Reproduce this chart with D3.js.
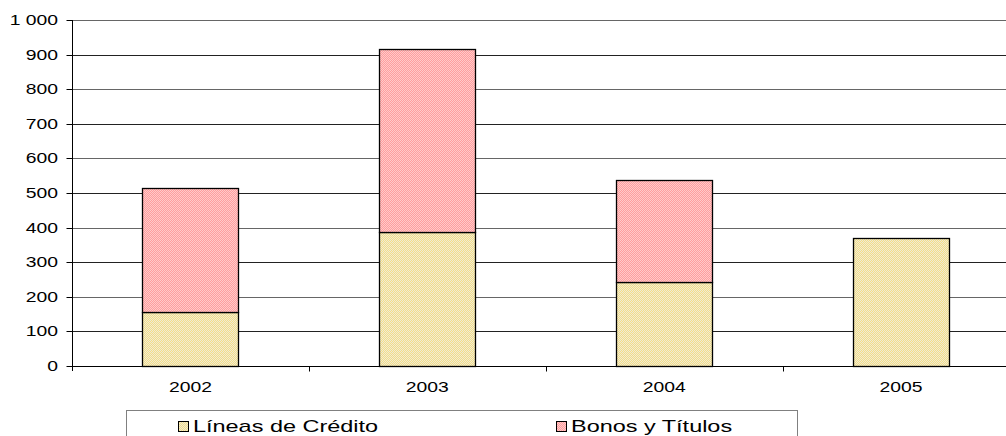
<!DOCTYPE html>
<html><head><meta charset="utf-8">
<script src="https://cdn.jsdelivr.net/npm/d3@7"></script>
<style>body{margin:0;background:#fff;} svg{display:block;}</style>
</head><body>
<svg id="c" width="1006" height="436"></svg>
<script>
const categories = ["2002", "2003", "2004", "2005"];
const seriesNames = ["Líneas de Crédito", "Bonos y Títulos"];
const lineasCredito = [155, 388, 242, 370];
const bonosTitulos = [360, 529, 296, 0];
const yTickValues = [0, 100, 200, 300, 400, 500, 600, 700, 800, 900, 1000];
const yTickLabels = ["0", "100", "200", "300", "400", "500", "600", "700", "800", "900", "1 000"];

(function () {
const svg = d3.select("#c");
const font = "Liberation Sans, Arial, sans-serif";
const SX = 1.38;
function stext(g, x, y, str, size, anchor) {
  return g.append("text").attr("transform", `translate(${x},${y}) scale(${SX},1)`)
    .attr("font-family", font).attr("font-size", size).attr("fill", "#000")
    .attr("text-anchor", anchor).text(str);
}
const defs = svg.append("defs");
function checker(id, a, b) {
  const p = defs.append("pattern").attr("id", id).attr("width", 2).attr("height", 2)
    .attr("patternUnits", "userSpaceOnUse");
  p.append("rect").attr("width", 2).attr("height", 2).attr("fill", a);
  p.append("rect").attr("width", 1).attr("height", 1).attr("fill", b);
  p.append("rect").attr("x", 1).attr("y", 1).attr("width", 1).attr("height", 1).attr("fill", b);
}
checker("patY", "#F6DE84", "#EEEBD8");
checker("patP", "#FF9E9E", "#FFCACA");
const fills = ["url(#patY)", "url(#patP)"];

const mLeft = 72, mTop = 20, mBottom = 366, mRight = 1019.5;
const x = d3.scaleBand().domain(categories).range([mLeft, mRight]).paddingInner(0.595).paddingOuter(0.2975);
const y = d3.scaleLinear().domain([0, 1000]).range([mBottom, mTop]);

// gridlines
svg.append("g").selectAll("line").data(yTickValues.slice(1)).join("line")
  .attr("x1", mLeft).attr("x2", 1006)
  .attr("y1", d => Math.round(y(d)) + 0.5).attr("y2", d => Math.round(y(d)) + 0.5)
  .attr("stroke", (d, i) => i % 2 === 0 ? "#222" : "#666").attr("stroke-width", 1);

// y axis
const yAxis = d3.axisLeft(y).tickValues(yTickValues).tickSize(6).tickFormat(() => "");
const gy = svg.append("g").attr("transform", `translate(${mLeft + 0.5},0)`).call(yAxis);
gy.select(".domain").attr("stroke", "#000").attr("d", `M0,${mTop}V${mBottom + 5}`);
gy.selectAll(".tick").attr("transform", d => `translate(0,${Math.round(y(d)) + 0.5})`);
gy.selectAll(".tick line").attr("stroke", "#000");
gy.selectAll(".tick text").remove();
const gyl = svg.append("g");
yTickValues.forEach((v, i) => {
  stext(gyl, 58, Math.round(y(v)) + 5, yTickLabels[i], 14, "end");
});

// stacked bars
const rows = categories.map((c, i) => ({ cat: c, [seriesNames[0]]: lineasCredito[i], [seriesNames[1]]: bonosTitulos[i] }));
const stack = d3.stack().keys(seriesNames)(rows);
svg.append("g").selectAll("g").data(stack).join("g")
  .attr("fill", (d, i) => fills[i])
  .selectAll("rect").data(d => d.filter(s => s[1] - s[0] > 0)).join("rect")
  .attr("x", d => Math.round(x(d.data.cat)) + 0.5)
  .attr("width", Math.round(x.bandwidth()))
  .attr("y", d => Math.round(y(d[1])) + 0.5)
  .attr("height", d => Math.round(y(d[0])) - Math.round(y(d[1])))
  .attr("stroke", "#000").attr("stroke-width", 1.3);

// x axis
const step = x.step();
const gx = svg.append("g").attr("transform", `translate(0,${mBottom + 0.5})`);
gx.append("line").attr("x1", mLeft).attr("x2", 1006).attr("y1", 0).attr("y2", 0).attr("stroke", "#000");
const bounds = categories.map((c, i) => mLeft + step * i);
gx.selectAll("line.t").data(bounds.slice(1)).join("line").attr("class", "t")
  .attr("x1", d => Math.round(d) + 0.5).attr("x2", d => Math.round(d) + 0.5)
  .attr("y1", 0).attr("y2", 5).attr("stroke", "#000");
categories.forEach(c => {
  stext(gx, x(c) + x.bandwidth() / 2, 25.5, c, 14, "middle");
});

// legend
const lg = svg.append("g");
lg.append("rect").attr("x", 126.5).attr("y", 410.5).attr("width", 671).attr("height", 40)
  .attr("fill", "#fff").attr("stroke", "#808080");
const legX = [178, 556];
seriesNames.forEach((n, i) => {
  lg.append("rect").attr("x", legX[i] + 0.5).attr("y", 421.5).attr("width", 10).attr("height", 10)
    .attr("fill", fills[i]).attr("stroke", "#000");
  stext(lg, legX[i] + 15, 432, n, 17, "start");
});
})();
</script>
</body></html>
